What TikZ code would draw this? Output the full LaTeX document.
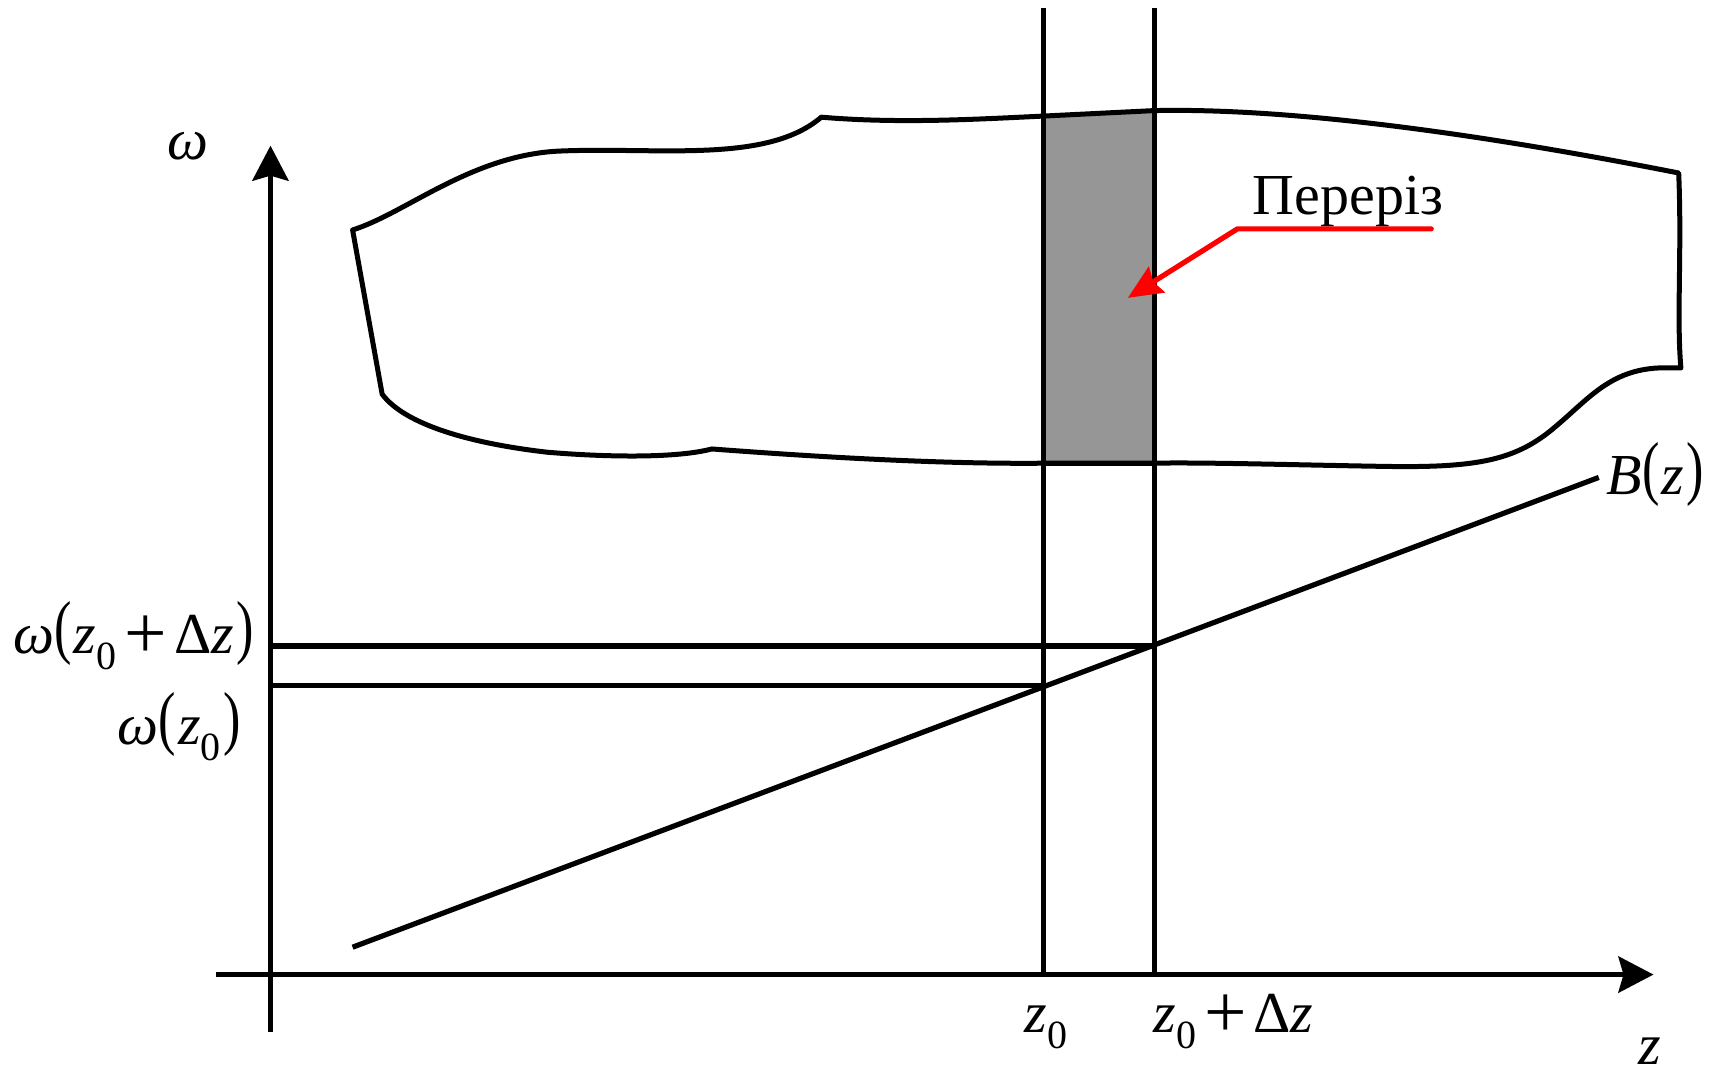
\documentclass[tikz,border=0pt]{standalone}
\usepackage{fontspec}
\setmainfont{Liberation Serif}
\usetikzlibrary{arrows.meta}
\newcommand{\zsub}{\raisebox{-0.28em}{\fontsize{20}{20}\selectfont 0}}
\newcommand{\lpar}{\raisebox{0.06em}{\scalebox{0.9}[1.22]{(}}\hspace{0.04em}}
\newcommand{\rpar}{\hspace{0.04em}\raisebox{0.06em}{\scalebox{0.9}[1.22]{)}}}
\newcommand{\pls}{\hspace{0.14em}\raisebox{-0.08em}{\scalebox{1.3}{+}}\hspace{0.12em}}
\tikzset{
  lbl/.style={inner sep=0pt, font=\fontsize{29}{33}\selectfont},
  axis/.style={line width=2.8pt, -{Stealth[length=17.5pt,width=18pt,inset=2.5pt]}},
  thin line/.style={line width=2.6pt},
  outline/.style={line width=2.5pt, line join=round},
  redarrow/.style={draw=red, line width=2.6pt, line cap=round, line join=round, -{Stealth[length=17pt,width=15pt,inset=2pt]}}
}
\begin{document}
\begin{tikzpicture}[x=0.5475pt, y=-0.5475pt]
\useasboundingbox (0,0) rectangle (1568,983);

% named coordinates
\coordinate (yb) at (247,942);
\coordinate (yt) at (247,133);
\coordinate (xl) at (197,890);
\coordinate (xr) at (1510,890);
\coordinate (v0t) at (953,7);
\coordinate (v0b) at (953,890);
\coordinate (v1t) at (1054,7);
\coordinate (v1b) at (1054,890);
\coordinate (h1l) at (247,590);
\coordinate (h1r) at (1054,590);
\coordinate (h0l) at (247,626);
\coordinate (h0r) at (953,626);
\coordinate (bs) at (322,865);
\coordinate (be) at (1460,436);
\coordinate (r1) at (1307,209);
\coordinate (r2) at (1130,209);
\coordinate (r3) at (1030,272);

% gray section
\fill[fill={rgb,255:red,150;green,150;blue,150}] (953,106) -- (1054,101) -- (1054,423) -- (953,423) -- cycle;

% outline of the body
\draw[outline] (322,210) .. controls (370,195) and (430,142) .. (510,138)
  .. controls (600,134) and (700,150) .. (750,107)
  .. controls (820,113) and (890,109) .. (953,106)
  -- (1054,101)
  .. controls (1150,99) and (1300,112) .. (1533,158)
  .. controls (1536,230) and (1531,290) .. (1535,336)
  -- (1515,336)
  .. controls (1470,338) and (1450,365) .. (1420,390)
  .. controls (1385,420) and (1350,427) .. (1270,426)
  .. controls (1200,425) and (1100,422) .. (1054,423)
  -- (953,423)
  .. controls (850,424) and (730,416) .. (650,410)
  .. controls (620,418) and (560,418) .. (500,413)
  .. controls (430,405) and (370,388) .. (349,360)
  -- cycle;

% lines
\draw[thin line] (v0t) -- (v0b);
\draw[thin line] (v1t) -- (v1b);
\draw[thin line] (953,423) -- (1054,423);
\draw[thin line] (h1l) -- (h1r);
\draw[thin line] (h0l) -- (h0r);
\draw[thin line] (bs) -- (be);

% axes
\draw[axis] (yb) -- (yt);
\draw[axis] (xl) -- (xr);

% labels
\node[lbl, anchor=base] (omega) at (172,146) {\itshape ω};
\node[lbl, anchor=base] (per) at (1231,196) {Переріз};
\node[lbl, anchor=base west] (Bz) at (1467,452) {\textit{B}\lpar\textit{z}\rpar};
\node[lbl, anchor=base east] (wdz) at (232,597) {\textit{ω}\lpar\textit{z}\zsub\pls Δ\textit{z}\rpar};
\node[lbl, anchor=base east] (w0) at (220,680) {\textit{ω}\lpar\textit{z}\zsub\rpar};
\node[lbl, anchor=base] (z0) at (955,943) {\textit{z}\zsub};
\node[lbl, anchor=base west] (z0dz) at (1053,943) {\textit{z}\zsub\pls Δ\textit{z}};
\node[lbl, anchor=base] (zlab) at (1507,972) {\textit{z}};

% red pointer
\draw[redarrow] (r1) -- (r2) -- (r3);
\end{tikzpicture}
\end{document}
